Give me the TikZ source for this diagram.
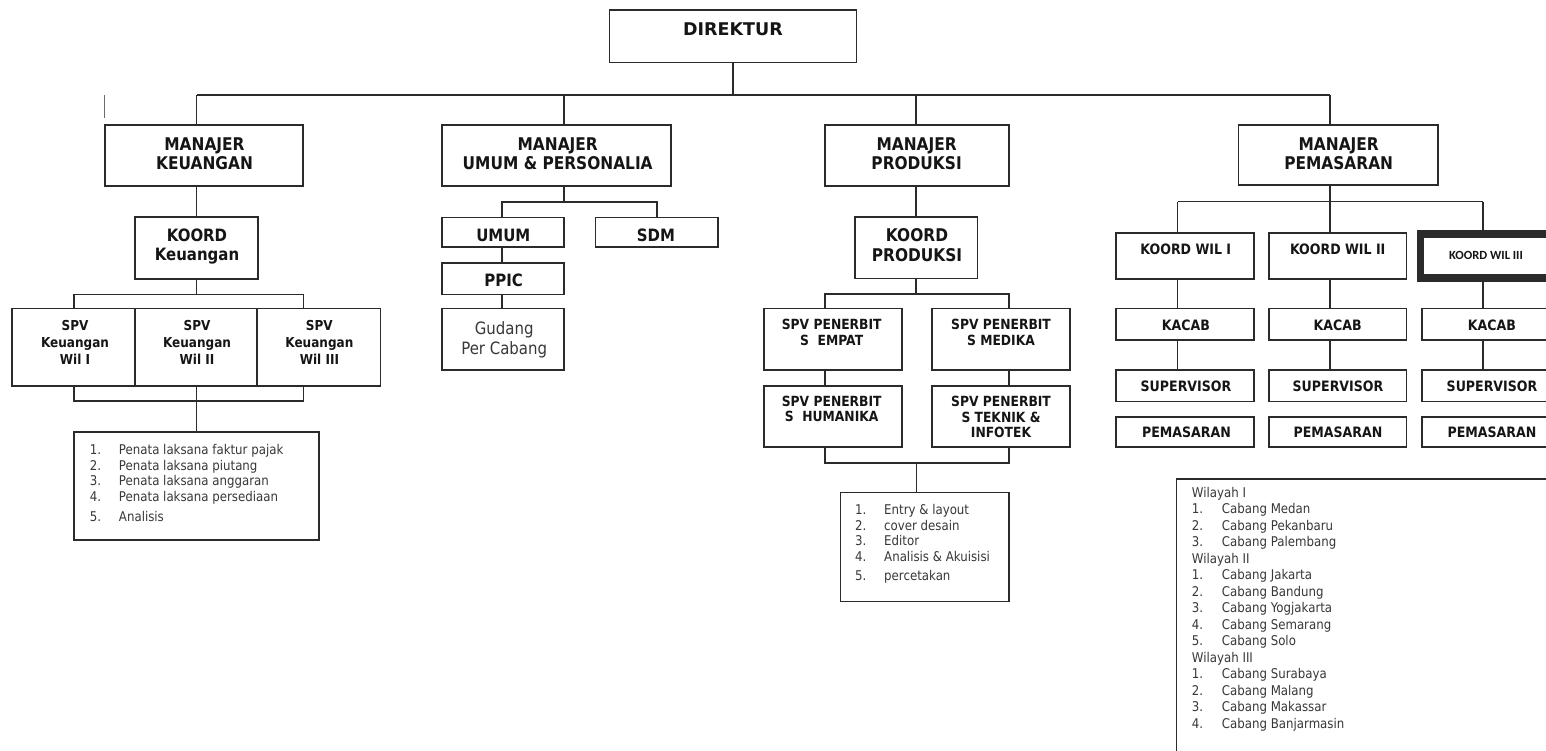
\documentclass[tikz,border=0pt]{standalone}
\usepackage{fontspec}
\setmainfont{DejaVu Sans}[FakeStretch=0.88]
\newfontfamily\dirfont{DejaVu Sans}
\newfontfamily\calfont{Carlito}
\definecolor{lc}{HTML}{2B2B2B}
\definecolor{tc}{HTML}{151515}
\definecolor{rc}{HTML}{383838}
\begin{document}
\begin{tikzpicture}[x=1pt,y=-1pt,
  bx/.style={draw=lc,line width=1.3pt,inner sep=0pt,outer sep=0pt},
  ln/.style={draw=lc,line width=1.3pt},
  hd/.style={font=\bfseries\fontsize{17.5}{19.5}\selectfont,text=tc,align=center,inner sep=0pt},
  md/.style={font=\bfseries\fontsize{17}{18.7}\selectfont,text=tc,align=center,inner sep=0pt},
  sk/.style={font=\bfseries\fontsize{13.7}{17}\selectfont,text=tc,align=center,inner sep=0pt},
  sp/.style={font=\bfseries\fontsize{14}{15.8}\selectfont,text=tc,align=center,inner sep=0pt},
  ws/.style={font=\bfseries\fontsize{14.3}{16}\selectfont,text=tc,align=center,inner sep=0pt},
  lst/.style={font=\fontsize{13.4}{15.9}\selectfont,text=rc,inner sep=0pt,anchor=north west},
  lsm/.style={font=\fontsize{13.4}{16.5}\selectfont,text=rc,inner sep=0pt,anchor=north west}
]
\useasboundingbox (0,0) rectangle (1546,751);
\fill[white] (0,0) rectangle (1546,751);
\clip (0,0) rectangle (1546,751);

% ---------- boxes ----------
\node[bx,minimum width=247.4pt,minimum height=52.7pt] (dir) at (733,36.35) {};
\node[bx,minimum width=198pt,minimum height=61pt] (mk) at (204,155.5) {};
\node[bx,minimum width=229pt,minimum height=61pt] (mup) at (556.5,155.5) {};
\node[bx,minimum width=184pt,minimum height=61pt] (mp) at (917,155.5) {};
\node[bx,minimum width=199.3pt,minimum height=60pt] (mpem) at (1338.35,155) {};

\node[bx,minimum width=123pt,minimum height=62pt] (kk) at (196.5,248) {};
\node[bx,minimum width=123pt,minimum height=77.3pt] (spv1) at (73.5,347.35) {};
\node[bx,minimum width=122pt,minimum height=77.3pt] (spv2) at (196,347.35) {};
\node[bx,minimum width=123.5pt,minimum height=77.3pt] (spv3) at (318.75,347.35) {};
\node[bx,minimum width=245pt,minimum height=108pt] (listk) at (196.5,486) {};

\node[bx,minimum width=122pt,minimum height=29.5pt] (umum) at (503,232.25) {};
\node[bx,minimum width=122.3pt,minimum height=29.5pt] (sdm) at (656.85,232.25) {};
\node[bx,minimum width=122pt,minimum height=31.5pt] (ppic) at (503,278.75) {};
\node[bx,minimum width=122pt,minimum height=61.3pt] (gud) at (503,339.35) {};

\node[bx,minimum width=122.5pt,minimum height=61.7pt] (kp) at (916.25,247.85) {};
\node[bx,minimum width=138pt,minimum height=61.3pt] (emp) at (833,339.35) {};
\node[bx,minimum width=138pt,minimum height=61.3pt] (med) at (1001,339.35) {};
\node[bx,minimum width=138pt,minimum height=61pt] (hum) at (833,416.5) {};
\node[bx,minimum width=138pt,minimum height=61pt] (tek) at (1001,416.5) {};
\node[bx,minimum width=168.3pt,minimum height=109pt] (listp) at (924.85,547.2) {};

\node[bx,minimum width=138pt,minimum height=46pt] (kw1) at (1185,256) {};
\node[bx,minimum width=137.6pt,minimum height=46pt] (kw2) at (1337.8,256) {};
\node[bx,line width=7.5pt,minimum width=141.5pt,minimum height=44.1pt] (kw3) at (1491.25,255.85) {};
\node[bx,minimum width=138pt,minimum height=31.3pt] (kc1) at (1185,324.35) {};
\node[bx,minimum width=137.6pt,minimum height=31.3pt] (kc2) at (1337.8,324.35) {};
\node[bx,minimum width=140pt,minimum height=31.3pt] (kc3) at (1492,324.35) {};
\node[bx,minimum width=138pt,minimum height=31.7pt] (su1) at (1185,385.85) {};
\node[bx,minimum width=137.6pt,minimum height=31.7pt] (su2) at (1337.8,385.85) {};
\node[bx,minimum width=140pt,minimum height=31.7pt] (su3) at (1492,385.85) {};
\node[bx,minimum width=138pt,minimum height=30pt] (pm1) at (1185,432) {};
\node[bx,minimum width=137.6pt,minimum height=30pt] (pm2) at (1337.8,432) {};
\node[bx,minimum width=140pt,minimum height=30pt] (pm3) at (1492,432) {};
\node[bx,minimum width=443.3pt,minimum height=341pt] (listm) at (1398.35,649.5) {};

% ---------- texts ----------
\node[inner sep=0pt,text=tc,font=\dirfont\bfseries\fontsize{17.5}{19.5}\selectfont] (dirT) at (733,29) {DIREKTUR};
\node[hd] (mkT) at (204.5,153.5) {MANAJER\\KEUANGAN};
\node[hd] (mupT) at (557.7,153.5) {MANAJER\\UMUM \& PERSONALIA};
\node[hd] (mpT) at (916.6,153.8) {MANAJER\\PRODUKSI};
\node[hd] (mpemT) at (1338.7,153.5) {MANAJER\\PEMASARAN};

\node[md] (kkT) at (197,246.5) {KOORD\\Keuangan};
\node[sk] (spv1T) at (75,342) {SPV\\Keuangan\\Wil I};
\node[sk] (spv2T) at (197,342) {SPV\\Keuangan\\Wil II};
\node[sk] (spv3T) at (319.4,342) {SPV\\Keuangan\\Wil III};

\node[md] (umumT) at (503.3,235.5) {UMUM};
\node[md] (sdmT) at (656,235.5) {SDM};
\node[md] (ppicT) at (503.7,280.8) {PPIC};
\node[inner sep=0pt,align=center,text=rc,font=\fontsize{17}{20}\selectfont] (gudT) at (504.2,339.5) {Gudang\\Per Cabang};

\node[hd] (kpT) at (917,245) {KOORD\\PRODUKSI};
\node[sp] (empT) at (831.7,332.8) {SPV PENERBIT\\S\ \ EMPAT};
\node[sp] (medT) at (1001,332.8) {SPV PENERBIT\\S MEDIKA};
\node[sp] (humT) at (831.7,409) {SPV PENERBIT\\S\ \ HUMANIKA};
\node[sp] (tekT) at (1001,417) {SPV PENERBIT\\S TEKNIK \&\\INFOTEK};

\node[ws] (kw1T) at (1185.8,249) {KOORD WIL I};
\node[ws] (kw2T) at (1337.7,249) {KOORD WIL II};
\node[inner sep=0pt,text=tc,font=\calfont\bfseries\fontsize{12.5}{14}\selectfont] (kw3T) at (1486,255.7) {KOORD WIL III};
\node[ws] (kc1T) at (1186,325) {KACAB};
\node[ws] (kc2T) at (1337.7,325) {KACAB};
\node[ws] (kc3T) at (1492,325) {KACAB};
\node[ws] (su1T) at (1186,386.3) {SUPERVISOR};
\node[ws] (su2T) at (1338,386.3) {SUPERVISOR};
\node[ws] (su3T) at (1492,386.3) {SUPERVISOR};
\node[ws] (pm1T) at (1186.5,432) {PEMASARAN};
\node[ws] (pm2T) at (1338,432) {PEMASARAN};
\node[ws] (pm3T) at (1492,432) {PEMASARAN};

% lists
\node[lst] (listkT) at (89.7,442.8) {\begin{tabular}{@{}p{29.1pt}@{}l@{}}
1. & Penata laksana faktur pajak\\
2. & Penata laksana piutang\\
3. & Penata laksana anggaran\\
4. & Penata laksana persediaan\\[3.4pt]
5. & Analisis
\end{tabular}};
\node[lst] (listpT) at (855,502.8) {\begin{tabular}{@{}p{29pt}@{}l@{}}
1. & Entry \& layout\\
2. & cover desain\\
3. & Editor\\
4. & Analisis \& Akuisisi\\[3.1pt]
5. & percetakan
\end{tabular}};
\node[lsm] (listmT) at (1191.7,485.35) {\begin{tabular}{@{}p{30pt}@{}l@{}}
\multicolumn{2}{@{}l@{}}{Wilayah I}\\
1. & Cabang Medan\\
2. & Cabang Pekanbaru\\
3. & Cabang Palembang\\
\multicolumn{2}{@{}l@{}}{Wilayah II}\\
1. & Cabang Jakarta\\
2. & Cabang Bandung\\
3. & Cabang Yogjakarta\\
4. & Cabang Semarang\\
5. & Cabang Solo\\
\multicolumn{2}{@{}l@{}}{Wilayah III}\\
1. & Cabang Surabaya\\
2. & Cabang Malang\\
3. & Cabang Makassar\\
4. & Cabang Banjarmasin
\end{tabular}};

% ---------- connectors ----------
\coordinate (b1) at (196.5,95);
\coordinate (b2) at (564,95);
\coordinate (b3) at (916,95);
\coordinate (b4) at (1330,95);
\coordinate (z1) at (104.5,95);
\coordinate (z2) at (104.5,118);
\draw[ln] (dir.south) -- (dir.south |- b1);
\draw[ln] (b1) -- (b4);
\draw[ln] (b1) -- (b1 |- mk.north);
\draw[ln] (b2) -- (b2 |- mup.north);
\draw[ln] (b3) -- (b3 |- mp.north);
\draw[ln] (b4) -- (b4 |- mpem.north);
\draw[draw=lc!70,line width=1pt] (z1) -- (z2);

% keuangan
\coordinate (s1) at (74,294.7);
\coordinate (s2) at (303.5,294.7);
\coordinate (t1) at (74,401);
\coordinate (t2) at (303.5,401);
\draw[ln] (kk.north) -- (kk.north |- mk.south);
\draw[ln] (kk.south) -- (kk.south |- s1);
\draw[ln] (s1 |- spv1.north) -- (s1) -- (s2) -- (s2 |- spv3.north);
\draw[ln] (s1 |- spv1.south) -- (t1) -- (t2) -- (s2 |- spv3.south);
\draw[ln] (listk.north |- spv2.south) -- (listk.north);

% umum & personalia
\coordinate (u1) at (502,202);
\coordinate (u2) at (657,202);
\draw[ln] (b2 |- mup.south) -- (b2 |- u1);
\draw[ln] (u1 |- umum.north) -- (u1) -- (u2) -- (u2 |- sdm.north);
\draw[ln] (u1 |- umum.south) -- (u1 |- ppic.north);
\draw[ln] (u1 |- ppic.south) -- (u1 |- gud.north);

% produksi
\coordinate (p1) at (825,294);
\coordinate (p2) at (1009,294);
\coordinate (q1) at (825,463);
\coordinate (q2) at (1009,463);
\coordinate (q3) at (916.7,463);
\draw[ln] (b3 |- mp.south) -- (b3 |- kp.north);
\draw[ln] (b3 |- kp.south) -- (b3 |- p1);
\draw[ln] (p1 |- emp.north) -- (p1) -- (p2) -- (p2 |- med.north);
\draw[ln] (p1 |- emp.south) -- (p1 |- hum.north);
\draw[ln] (p2 |- med.south) -- (p2 |- tek.north);
\draw[ln] (p1 |- hum.south) -- (q1) -- (q2) -- (p2 |- tek.south);
\draw[ln] (q3) -- (q3 |- listp.north);

% pemasaran
\coordinate (m1) at (1177.5,201.7);
\coordinate (m2) at (1330,201.7);
\coordinate (m3) at (1483,201.7);
\draw[ln] (m2 |- mpem.south) -- (m2);
\draw[ln] (m1) -- (m3);
\draw[ln] (m1) -- (m1 |- kw1.north);
\draw[ln] (m2) -- (m2 |- kw2.north);
\draw[ln] (m3) -- (m3 |- kw3.north);
\draw[ln] (m1 |- kw1.south) -- (m1 |- kc1.north);
\draw[ln] (m2 |- kw2.south) -- (m2 |- kc2.north);
\draw[ln] (m3 |- kw3.south) -- (m3 |- kc3.north);
\draw[ln] (m1 |- kc1.south) -- (m1 |- su1.north);
\draw[ln] (m2 |- kc2.south) -- (m2 |- su2.north);
\draw[ln] (m3 |- kc3.south) -- (m3 |- su3.north);
\end{tikzpicture}
\end{document}
